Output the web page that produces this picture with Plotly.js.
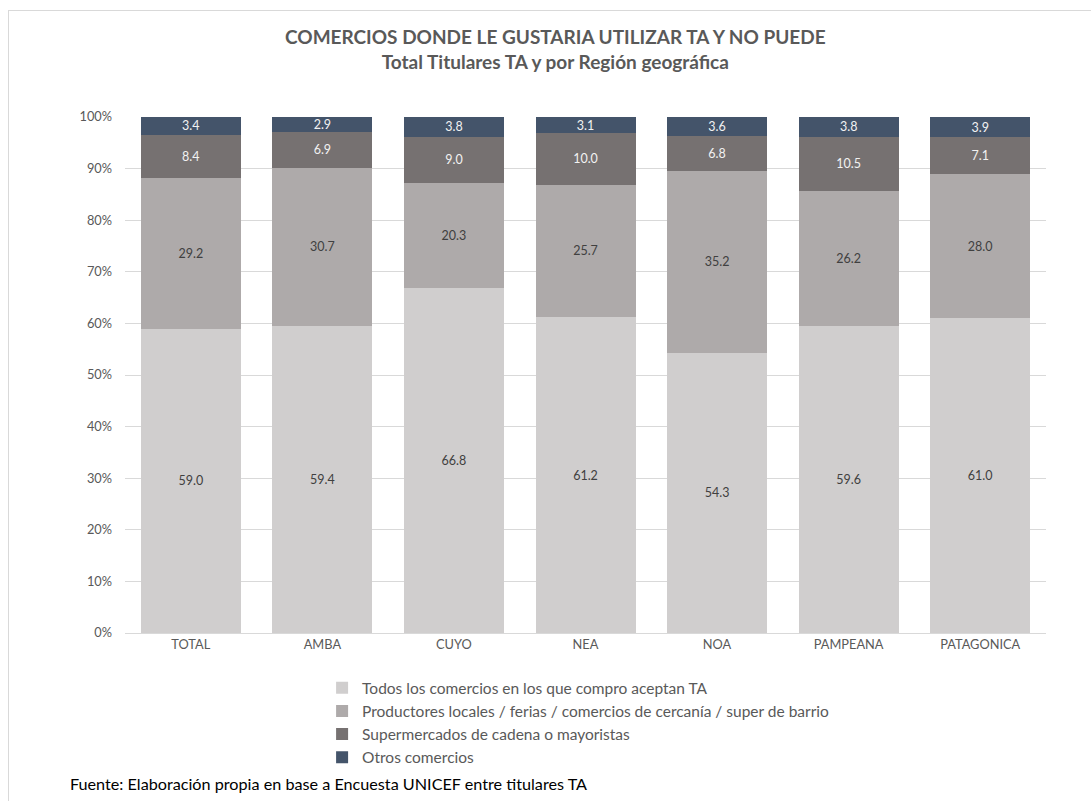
<!DOCTYPE html>
<html><head><meta charset="utf-8">
<script src="https://cdn.plot.ly/plotly-3.0.1.min.js"></script>
<style>
html,body{margin:0;padding:0;background:#fff;}
#wrap{position:relative;width:1091px;height:801px;overflow:hidden;}
#frame{position:absolute;left:8px;top:10px;width:1100px;height:820px;border:1px solid #d9d9d9;pointer-events:none;}
#chart{position:absolute;left:0;top:0;width:1091px;height:801px;}
</style>
</head><body>
<div id="wrap"><div id="chart"></div><div id="frame"></div></div>
<script>
const categories = ["TOTAL","AMBA","CUYO","NEA","NOA","PAMPEANA","PATAGONICA"];
const seriesNames = [
  "Todos los comercios en los que compro aceptan TA",
  "Productores locales / ferias / comercios de cercanía / super de barrio",
  "Supermercados de cadena o mayoristas",
  "Otros comercios"
];
const todos = [59.0, 59.4, 66.8, 61.2, 54.3, 59.6, 61.0];
const productores = [29.2, 30.7, 20.3, 25.7, 35.2, 26.2, 28.0];
const supermercados = [8.4, 6.9, 9.0, 10.0, 6.8, 10.5, 7.1];
const otros = [3.4, 2.9, 3.8, 3.1, 3.6, 3.8, 3.9];

const seriesValues = [todos, productores, supermercados, otros];
const colors = ["#d0cece", "#aeaaaa", "#767171", "#44546a"];
const textColors = ["#404040", "#404040", "#f2f2f2", "#f2f2f2"];
const FONT = "Lato, 'Open Sans', sans-serif";

const traces = seriesValues.map((vals, i) => ({
  type: "bar",
  name: seriesNames[i],
  x: categories,
  y: vals,
  text: vals.map(v => v.toFixed(1)),
  textposition: "inside",
  insidetextanchor: "middle",
  textangle: 0,
  textfont: {family: FONT, size: 12.5, color: textColors[i]},
  marker: {color: colors[i], line: {width: 0}},
  hoverinfo: "skip"
}));

const layout = {
  width: 1091, height: 801,
  paper_bgcolor: "#ffffff", plot_bgcolor: "#ffffff",
  barmode: "stack",
  barnorm: "percent",
  bargap: 0.24,
  margin: {l: 125, r: 45, t: 117, b: 168},
  font: {family: FONT, color: "#595959", size: 12.5},
  title: {
    text: "<b>COMERCIOS DONDE LE GUSTARIA UTILIZAR TA Y NO PUEDE</b><br><b>Total Titulares TA y por Región geográfica</b>",
    font: {family: FONT, size: 19, color: "#595959"},
    x: 0.509, xanchor: "center",
    y: 0.945, yanchor: "top", yref: "container"
  },
  xaxis: {
    type: "category",
    tickfont: {family: FONT, size: 12.8, color: "#595959"},
    showline: true, linecolor: "#d9d9d9", linewidth: 1,
    ticks: "", showgrid: false
  },
  yaxis: {
    range: [0, 100], dtick: 10, ticksuffix: "%",
    tickfont: {family: FONT, size: 12.8, color: "#595959"},
    showgrid: true, gridcolor: "#d9d9d9", gridwidth: 1,
    zeroline: false, showline: false, ticks: "",
    ticklabelstandoff: 12, fixedrange: true
  },
  uniformtext: {minsize: 12, mode: "show"},
  legend: {
    orientation: "v", traceorder: "normal",
    x: 0.214, xanchor: "left", y: -0.074, yanchor: "top",
    font: {family: FONT, size: 15.5, color: "#595959"},
    itemwidth: 30, tracegroupgap: 0,
    bgcolor: "rgba(0,0,0,0)"
  },
  annotations: [{
    text: "Fuente: Elaboración propia en base a Encuesta UNICEF entre titulares TA",
    xref: "paper", yref: "paper",
    x: -0.062, xanchor: "left",
    y: -0.291, yanchor: "middle",
    showarrow: false,
    font: {family: FONT, size: 16.2, color: "#000000"}
  }]
};

Plotly.newPlot("chart", traces, layout, {displayModeBar: false, staticPlot: true});
</script>
</body></html>
